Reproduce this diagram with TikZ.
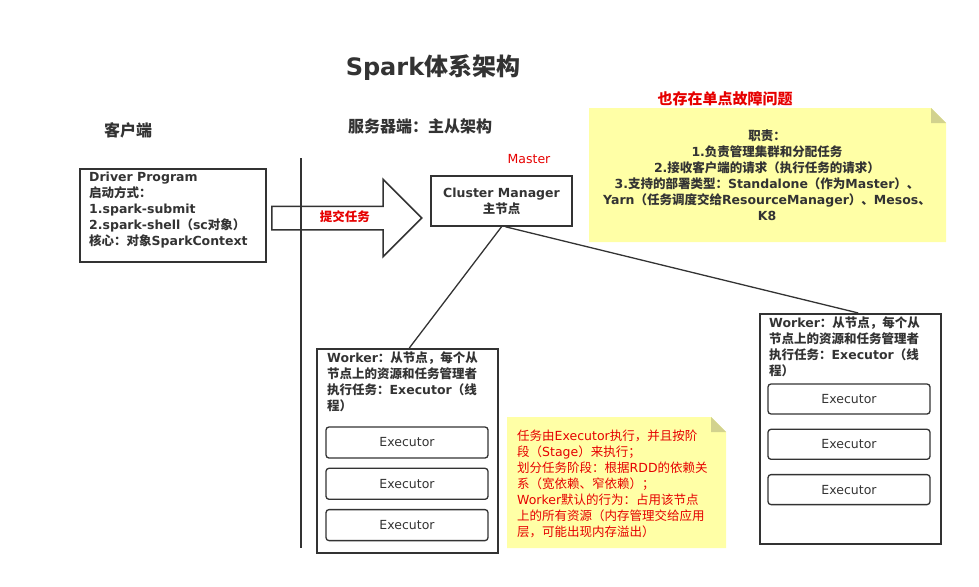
\documentclass[tikz,border=0pt]{standalone}
\usepackage{fontspec}
\setmainfont{DejaVu Sans}
\newfontfamily\latinfont{DejaVu Sans}
\newfontfamily\cjkfont{Noto Sans CJK SC}
\usepackage{tikz}
\usepackage{xcolor}
\usetikzlibrary{shapes}
\usetikzlibrary{shapes.arrows}
\usetikzlibrary{positioning}

% CJK characters in Noto Sans CJK, Latin in DejaVu Sans
\XeTeXinterchartokenstate=1
\newXeTeXintercharclass\cjkcls
\newcount\cjkcode
\def\setcjkrange#1#2{\cjkcode=#1
  \loop \XeTeXcharclass\cjkcode=\cjkcls
  \ifnum\cjkcode<#2 \advance\cjkcode by 1 \repeat}
\setcjkrange{"3000}{"303F}
\setcjkrange{"4E00}{"9FFF}
\setcjkrange{"FF00}{"FFEF}
\XeTeXinterchartoks 0 \cjkcls = {\cjkfont}
\XeTeXinterchartoks 4095 \cjkcls = {\cjkfont}
\XeTeXinterchartoks \cjkcls 0 = {\latinfont}
\XeTeXinterchartoks 4095 0 = {\latinfont}

\definecolor{ink}{HTML}{333333}
\definecolor{notefill}{HTML}{FFFFA6}
\definecolor{notefold}{HTML}{D2D28E}
\definecolor{alarm}{HTML}{E60000}

\tikzset{
  box/.style={draw=ink, line width=1.6pt, rectangle, inner sep=0pt},
  exec/.style={draw=ink, line width=1.3pt, rounded corners=3pt, minimum width=162pt,
    minimum height=31pt, font=\fontsize{12.5}{16}\selectfont, text=ink},
  btext/.style={font=\bfseries\fontsize{12.5}{16}\selectfont, text=ink, align=left, inner sep=0pt},
  link/.style={draw=ink, line width=1.3pt},
}

\begin{document}
\begin{tikzpicture}[x=1pt, y=-1pt]
\useasboundingbox (0,0) rectangle (979,586);

% Titles (nodes)
\node[font=\bfseries\fontsize{24}{28}\selectfont, text=ink] (title) at (433,68) {Spark体系架构};
\node[font=\bfseries\fontsize{16}{20}\selectfont, text=ink] (client) at (128,130) {客户端};
\node[font=\bfseries\fontsize{16}{20}\selectfont, text=ink] (server) at (420,126) {服务器端：主从架构};
\node[font=\bfseries\fontsize{15}{18}\selectfont, text=alarm] (spof) at (725,99) {也存在单点故障问题};

% Separator line
\coordinate (sepTop) at (301,158);
\coordinate (sepBot) at (301,548);
\draw[link] (sepTop) -- (sepBot);

% Driver (node)
\node[box, minimum width=186pt, minimum height=93pt, anchor=north west] (driver) at (79,168) {};
\node[btext, anchor=north west] (drvtxt) at (89,172)
  {Driver Program\\启动方式：\\1.spark-submit\\2.spark-shell（sc对象）\\核心：对象SparkContext};

% Submit arrow (node)
\node[draw=ink, line width=1.5pt, single arrow, single arrow head extend=27pt,
  minimum height=150pt, inner xsep=0pt, inner ysep=0pt, text height=14pt, text depth=8pt,
  font=\bfseries\fontsize{12.5}{16}\selectfont, text=alarm, anchor=tail] (submit) at (271,218) {\hspace{8pt}提交任务};

% Cluster manager (node)
\node[box, minimum width=141pt, minimum height=50pt, align=center,
  font=\bfseries\fontsize{12.5}{16}\selectfont, text=ink] (cm) at (501.5,201) {Cluster Manager\\主节点};
\node[font=\fontsize{12.5}{16}\selectfont, text=alarm] (master) at (529,159) {Master};

% Duty note
\fill[notefill] (589,108) -- (931,108) -- (946,123) -- (946,242) -- (589,242) -- cycle;
\fill[notefold] (931,108) -- (946,123) -- (931,123) -- cycle;
\node[btext, align=center] (duty) at (767,175)
  {职责：\\1.负责管理集群和分配任务\\2.接收客户端的请求（执行任务的请求）\\3.支持的部署类型：Standalone（作为Master）、\\Yarn（任务调度交给ResourceManager）、Mesos、\\K8};

% Worker 1 (node)
\node[box, minimum width=181pt, minimum height=204pt, anchor=north west] (w1) at (316,348) {};
\node[btext, anchor=north west] (w1txt) at (327,352)
  {Worker：从节点，每个从\\节点上的资源和任务管理者\\执行任务：Executor（线\\程）};
\node[exec] (e11) at (407,442.5) {Executor};
\node[exec, below=9pt of e11] (e12) {Executor};
\node[exec, below=9pt of e12] (e13) {Executor};

% Worker 2 (node)
\node[box, minimum width=181pt, minimum height=230pt, anchor=north west] (w2) at (759,313) {};
\node[btext, anchor=north west] (w2txt) at (769,317)
  {Worker：从节点，每个从\\节点上的资源和任务管理者\\执行任务：Executor（线\\程）};
\node[exec, minimum height=30pt] (e21) at (849,399) {Executor};
\node[exec, minimum height=30pt, below=14pt of e21] (e22) {Executor};
\node[exec, minimum height=30pt, below=14pt of e22] (e23) {Executor};

% Links from master to workers
\draw[link] (cm.south) -- ([xshift=2pt]w1.north);
\draw[link] ([xshift=4pt]cm.south) -- ([xshift=8pt]w2.north);

% Executor note
\fill[notefill] (507,417) -- (711,417) -- (726,432) -- (726,548) -- (507,548) -- cycle;
\fill[notefold] (711,417) -- (726,432) -- (711,432) -- cycle;
\node[font=\fontsize{12.5}{16}\selectfont, text=alarm, align=left, inner sep=0pt, anchor=north west] (exnote) at (517,430)
  {任务由Executor执行，并且按阶\\段（Stage）来执行；\\划分任务阶段：根据RDD的依赖关\\系（宽依赖、窄依赖）；\\Worker默认的行为：占用该节点\\上的所有资源（内存管理交给应用\\层，可能出现内存溢出）};
\end{tikzpicture}
\end{document}
